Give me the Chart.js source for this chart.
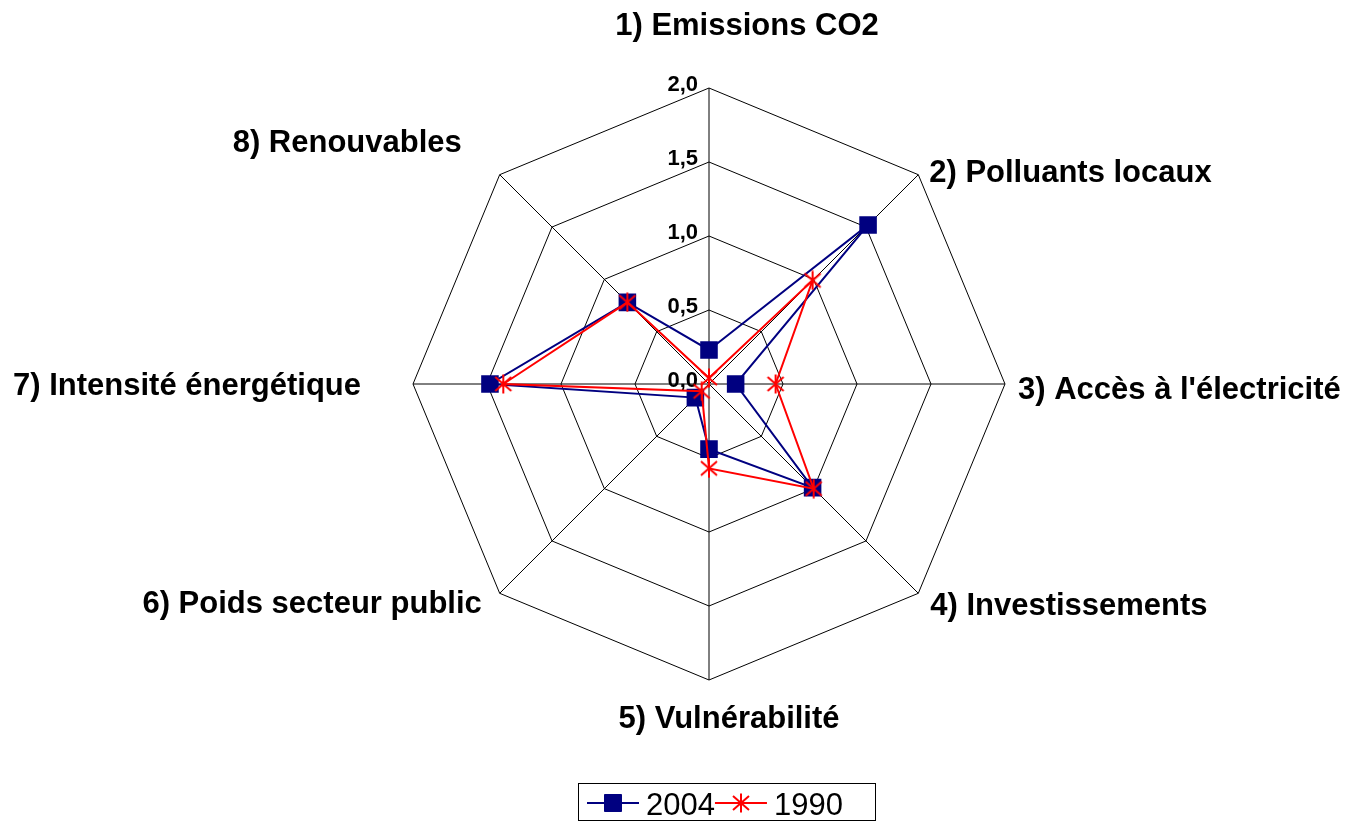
<!DOCTYPE html>
<html>
<head>
<meta charset="utf-8">
<script src="https://cdn.jsdelivr.net/npm/chart.js@4/dist/chart.umd.min.js"></script>
<style>
  html, body { margin: 0; padding: 0; background: #fff; }
  canvas { display: block; }
</style>
</head>
<body>
<canvas id="radarChart" width="1372" height="823"></canvas>
<script>
// data
const categories = [
  "1) Emissions CO2",
  "2) Polluants locaux",
  "3) Accès à l'électricité",
  "4) Investissements",
  "5) Vulnérabilité",
  "6) Poids secteur public",
  "7) Intensité énergétique",
  "8) Renouvables"
];
const values2004 = [0.23, 1.52, 0.18, 0.99, 0.44, 0.13, 1.48, 0.78];
const values1990 = [0.04, 0.99, 0.45, 1.00, 0.57, 0.07, 1.39, 0.78];
const seriesNames = ["2004", "1990"];
const tickLabels = ["0,0", "0,5", "1,0", "1,5", "2,0"];

const FONT = '"Liberation Sans", Arial, sans-serif';

// excel style asterisk marker
function makeStar(color) {
  const c = document.createElement("canvas");
  c.width = 20;
  c.height = 20;
  const g = c.getContext("2d");
  g.strokeStyle = color;
  g.lineWidth = 2;
  g.beginPath();
  g.moveTo(10, 0.5); g.lineTo(10, 19.5);
  g.moveTo(2, 3); g.lineTo(18, 17);
  g.moveTo(2, 17); g.lineTo(18, 3);
  g.stroke();
  return c;
}

// axis titles + tick labels, drawn under the series
const radarText = {
  id: "radarText",
  beforeDatasetsDraw(chart) {
    const ctx = chart.ctx;
    const r = chart.scales.r;
    ctx.save();
    ctx.fillStyle = "#000";

    ctx.font = "bold 22px " + FONT;
    ctx.textAlign = "right";
    ctx.textBaseline = "middle";
    r.ticks.forEach((t, i) => {
      const y = r.yCenter - r.getDistanceFromCenterForValue(t.value);
      ctx.fillText(tickLabels[i], r.xCenter - 11, y - 3);
    });

    // small nudges so the titles sit where excel put them
    const nudge = [[38, -48], [1, 9], [-1, 6], [2, 3], [20, 25], [-8, 1], [-38, 2], [-28, -21]];
    ctx.font = "bold 31px " + FONT;
    categories.forEach((lab, i) => {
      const p = r.getPointPosition(i, r.drawingArea + 14);
      if (i === 0 || i === 4) ctx.textAlign = "center";
      else if (i < 4) ctx.textAlign = "left";
      else ctx.textAlign = "right";
      ctx.fillText(lab, p.x + nudge[i][0], p.y + nudge[i][1]);
    });
    ctx.restore();
  }
};

// boxed legend with line + marker, like the excel one
const boxLegend = {
  id: "boxLegend",
  afterDraw(chart) {
    const ctx = chart.ctx;
    const lx = 578, ly = 783, lw = 297, lh = 37;
    const cy = ly + 20;
    ctx.save();
    ctx.strokeStyle = "#000";
    ctx.lineWidth = 1;
    ctx.strokeRect(lx + 0.5, ly + 0.5, lw, lh);

    ctx.font = "31px " + FONT;
    ctx.textAlign = "left";
    ctx.textBaseline = "middle";
    let x = lx + 9;
    [0, 1].forEach(k => {
      const ds = chart.data.datasets[k];
      ctx.strokeStyle = ds.borderColor;
      ctx.lineWidth = ds.borderWidth;
      ctx.beginPath();
      ctx.moveTo(x, cy);
      ctx.lineTo(x + 52, cy);
      ctx.stroke();
      ctx.fillStyle = ds.pointBackgroundColor;
      ctx.strokeStyle = ds.pointBorderColor;
      ctx.lineWidth = 1;
      Chart.helpers.drawPoint(ctx, {
        pointStyle: ds.pointStyle, radius: ds.pointRadius + 1, rotation: 0, borderWidth: 1
      }, x + 26, cy);
      x += 52 + 7;
      ctx.fillStyle = "#000";
      ctx.fillText(seriesNames[k], x, cy + 3);
      x += ctx.measureText(seriesNames[k]).width;
    });
    ctx.restore();
  }
};

const ctx = document.getElementById("radarChart").getContext("2d");
const chart = new Chart(ctx, {
  type: "radar",
  data: {
    labels: categories,
    datasets: [
      {
        label: seriesNames[0],
        data: values2004,
        borderColor: "#000080",
        borderWidth: 2,
        pointStyle: "rect",
        pointRadius: 11,
        pointBackgroundColor: "#000080",
        pointBorderColor: "#000080",
        fill: false,
        order: 2
      },
      {
        label: seriesNames[1],
        data: values1990,
        borderColor: "#ff0000",
        borderWidth: 2,
        pointStyle: makeStar("#ff0000"),
        pointRadius: 10,
        pointBackgroundColor: "#ff0000",
        pointBorderColor: "#ff0000",
        fill: false,
        order: 1
      }
    ]
  },
  options: {
    responsive: false,
    animation: false,
    devicePixelRatio: 1,
    layout: { padding: { left: 413, right: 367, top: 88, bottom: 143 } },
    plugins: {
      legend: { display: false },
      tooltip: { enabled: false }
    },
    elements: { line: { tension: 0 } },
    scales: {
      r: {
        min: 0,
        max: 2,
        ticks: { stepSize: 0.5, display: false },
        grid: { color: "#000", lineWidth: 1, circular: false },
        angleLines: { color: "#000", lineWidth: 1 },
        pointLabels: { display: false }
      }
    }
  },
  plugins: [radarText, boxLegend]
});
</script>
</body>
</html>
